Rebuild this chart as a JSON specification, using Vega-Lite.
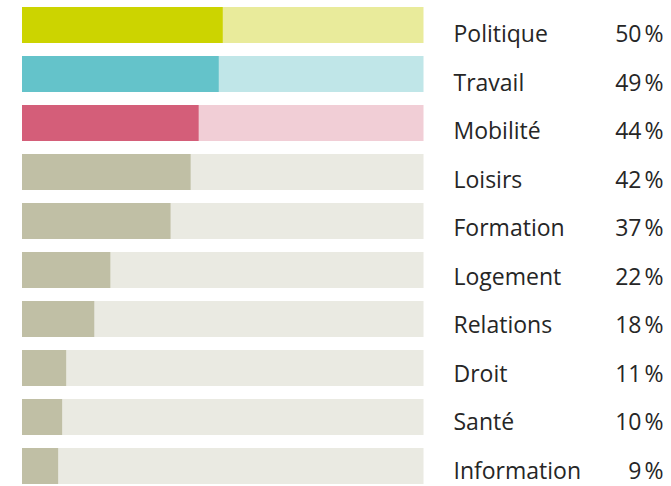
{
  "$schema": "https://vega.github.io/schema/vega-lite/v6.json",
  "width": 401.5,
  "height": 477,
  "autosize": {"type": "none"},
  "padding": {"left": 22, "top": 7, "right": 247.5, "bottom": 2},
  "background": "white",
  "config": {"view": {"stroke": null}},
  "data": {
    "values": [
      {"cat": "Politique", "pct": 50},
      {"cat": "Travail", "pct": 49},
      {"cat": "Mobilité", "pct": 44},
      {"cat": "Loisirs", "pct": 42},
      {"cat": "Formation", "pct": 37},
      {"cat": "Logement", "pct": 22},
      {"cat": "Relations", "pct": 18},
      {"cat": "Droit", "pct": 11},
      {"cat": "Santé", "pct": 10},
      {"cat": "Information", "pct": 9}
    ]
  },
  "transform": [
    {"calculate": "datum.pct + '\u202f%'", "as": "label"}
  ],
  "layer": [
    {
      "layer": [
        {
          "mark": {"type": "bar"},
          "encoding": {
            "x": {"datum": 100, "type": "quantitative", "scale": {"domain": [0, 100]}, "axis": null},
            "x2": {"datum": 0},
            "color": {
              "field": "cat", "type": "nominal", "legend": null,
              "scale": {
                "domain": ["Politique", "Travail", "Mobilité", "Loisirs", "Formation", "Logement", "Relations", "Droit", "Santé", "Information"],
                "range": ["#E9EB9B", "#C0E6E8", "#F1CED6", "#EAEAE2", "#EAEAE2", "#EAEAE2", "#EAEAE2", "#EAEAE2", "#EAEAE2", "#EAEAE2"]
              }
            }
          }
        },
        {
          "mark": {"type": "bar"},
          "encoding": {
            "x": {"field": "pct", "type": "quantitative", "scale": {"domain": [0, 100]}, "axis": null},
            "color": {
              "field": "cat", "type": "nominal", "legend": null,
              "scale": {
                "domain": ["Politique", "Travail", "Mobilité", "Loisirs", "Formation", "Logement", "Relations", "Droit", "Santé", "Information"],
                "range": ["#CCD400", "#64C3CA", "#D45E79", "#C0BFA5", "#C0BFA5", "#C0BFA5", "#C0BFA5", "#C0BFA5", "#C0BFA5", "#C0BFA5"]
              }
            }
          }
        }
      ],
      "encoding": {
        "y": {
          "field": "cat", "type": "nominal", "sort": null,
          "scale": {"type": "band", "paddingInner": 0.2653, "paddingOuter": 0},
          "axis": null
        }
      },
      "resolve": {"scale": {"color": "independent"}}
    },
    {
      "layer": [
        {
          "mark": {"type": "text", "align": "left", "baseline": "alphabetic", "dx": 30, "dy": 15, "font": "Open Sans", "fontSize": 23, "color": "#262626"},
          "encoding": {
            "x": {"datum": 100, "type": "quantitative"},
            "text": {"field": "cat"}
          }
        },
        {
          "mark": {"type": "text", "align": "right", "baseline": "alphabetic", "dx": 240, "dy": 15, "font": "Open Sans", "fontSize": 23, "color": "#262626"},
          "encoding": {
            "x": {"datum": 100, "type": "quantitative"},
            "text": {"field": "label"}
          }
        }
      ],
      "encoding": {
        "y": {
          "field": "cat", "type": "nominal", "sort": null,
          "scale": {"type": "point", "padding": 0.4116},
          "axis": null
        }
      }
    }
  ],
  "resolve": {"scale": {"y": "independent", "color": "independent"}}
}
